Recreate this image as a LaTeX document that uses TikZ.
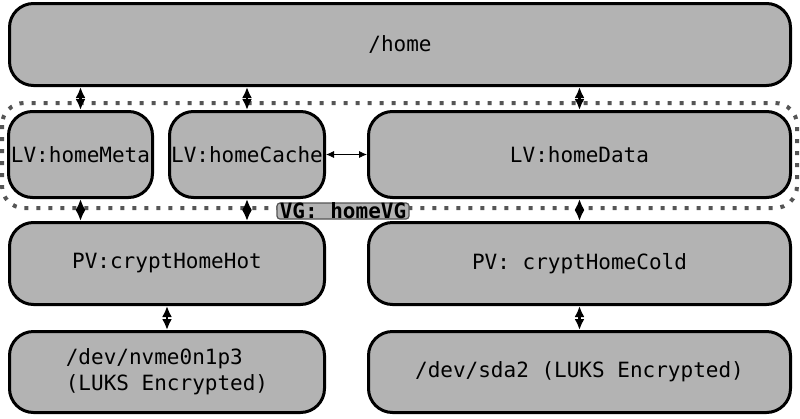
\documentclass[tikz,border=0pt]{standalone}
\usepackage{fontspec}
\newfontfamily\dvm{DejaVu Sans Mono}
\usetikzlibrary{arrows.meta,calc}
\definecolor{boxgray}{HTML}{B3B3B3}
\definecolor{dotgray}{HTML}{555555}
\begin{document}
\begin{tikzpicture}[x=1pt,y=-1pt,
  pbox/.style={draw=black, line width=3pt, fill=boxgray, rounded corners=24pt,
    inner sep=0pt, font=\dvm\fontsize{21}{26}\selectfont, align=center},
  dbl/.style={{Latex[length=11pt,width=10pt]}-{Latex[length=11pt,width=10pt]}, line width=2.2pt},
  thinarr/.style={{Latex[length=8pt,width=7pt]}-{Latex[length=8pt,width=7pt]}, line width=0.8pt},
  cluster/.style={draw=dotgray, line width=4pt, dash pattern=on 4pt off 8pt, rounded corners=22pt},
  vgbox/.style={draw=dotgray, line width=1.2pt, fill=boxgray, rounded corners=3pt, inner sep=0pt},
  vgtext/.style={font=\dvm\bfseries\fontsize{21}{26}\selectfont, inner sep=0pt}
]
\useasboundingbox (0,0) rectangle (800,418);
% cluster
\draw[cluster] (2,103) rectangle (797,208);
% boxes
\node[pbox, minimum width=781pt, minimum height=82pt] (home) at (400,44.5) {/home};
\node[pbox, minimum width=144pt, minimum height=86pt] (meta) at (80.5,154.5) {LV:homeMeta};
\node[pbox, minimum width=155pt, minimum height=86pt] (cache) at (247,154.5) {LV:homeCache};
\node[pbox, minimum width=422pt, minimum height=86pt] (data) at (579.5,154.5) {LV:homeData};
\node[pbox, minimum width=315pt, minimum height=82pt] (hot) at (167,263.5) {PV:cryptHomeHot};
\node[pbox, minimum width=422pt, minimum height=82pt] (cold) at (579.5,263.5) {PV: cryptHomeCold};
\node[pbox, minimum width=315pt, minimum height=81pt, align=left] (nvme) at (167,372) {/dev/nvme0n1p3\\(LUKS Encrypted)};
\node[pbox, minimum width=422pt, minimum height=81pt] (sda) at (579.5,372) {/dev/sda2 (LUKS Encrypted)};
% VG label
\node[vgbox, minimum width=132pt, minimum height=16pt] (vg) at (343,211) {};
\node[vgtext] (vgt) at (vg.center) {VG: homeVG};
% connectors
\draw[dbl] (home.south -| meta.north) -- (meta.north);
\draw[dbl] (home.south -| cache.north) -- (cache.north);
\draw[dbl] (home.south -| data.north) -- (data.north);
\draw[dbl] (meta.south) -- (meta.south |- hot.north);
\draw[dbl] (cache.south) -- (cache.south |- hot.north);
\draw[dbl] (data.south) -- (cold.north);
\draw[dbl] (hot.south) -- (nvme.north);
\draw[dbl] (cold.south) -- (sda.north);
\draw[thinarr] (cache.east) -- (data.west);
\end{tikzpicture}
\end{document}
